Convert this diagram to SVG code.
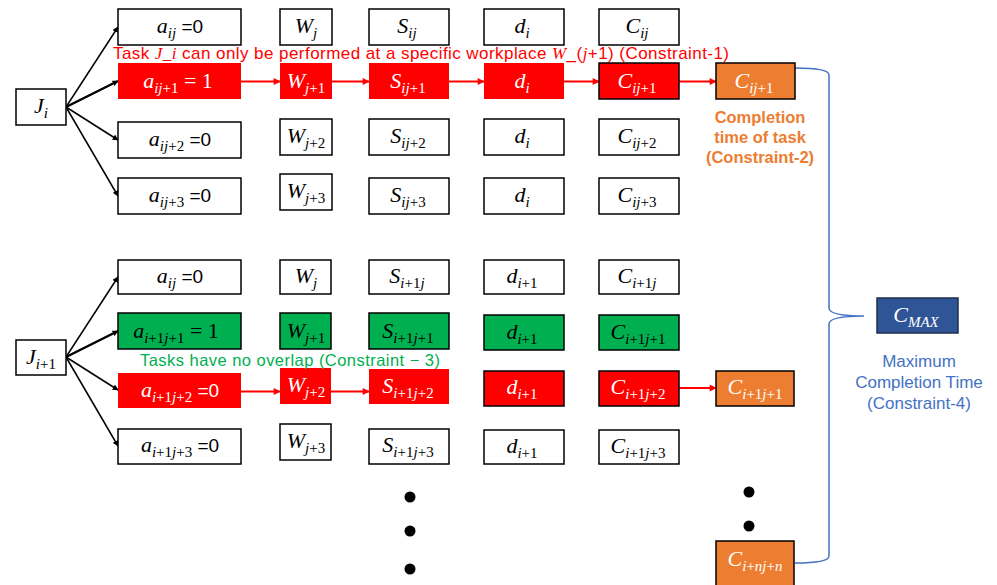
<svg xmlns="http://www.w3.org/2000/svg" width="997" height="585" viewBox="0 0 997 585">
<defs>
<style>
.b{fill:#fff;stroke:#000;stroke-width:1.5}
.r{fill:#ff0000}
.rb{fill:#ff0000;stroke:#000;stroke-width:1.5}
.g{fill:#00b050;stroke:#000;stroke-width:1.5}
.o{fill:#ed7d31;stroke:#000;stroke-width:1.5}
.bl{fill:#2f5597;stroke:#1f2f4f;stroke-width:1.5}
.m{font-family:"Liberation Serif","DejaVu Serif",serif;font-style:italic;font-size:22px;text-anchor:middle;fill:#000}
.s{font-size:15px}
.n{font-style:normal}
.u{font-family:"Liberation Sans",Arial,sans-serif;font-style:normal;font-size:19px}
.w{fill:#fff}
.k{stroke:#000;stroke-width:1.5;fill:none;marker-end:url(#ak)}
.kt{stroke:#000;stroke-width:2.5;fill:none;marker-end:url(#ak)}
.ra{stroke:#ff0000;stroke-width:2;fill:none;marker-end:url(#ar)}
.lab{font-family:"Liberation Sans",Arial,sans-serif}
</style>
<marker id="ak" viewBox="0 0 10 10" refX="9" refY="5" markerWidth="6" markerHeight="6" markerUnits="userSpaceOnUse" orient="auto"><path d="M0,0 L10,5 L0,10 z" fill="#000"/></marker>
<marker id="ar" viewBox="0 0 10 10" refX="9" refY="5" markerWidth="8" markerHeight="7" markerUnits="userSpaceOnUse" orient="auto"><path d="M0,0 L10,5 L0,10 z" fill="#ff0000"/></marker>
</defs>

<!-- connectors -->
<g id="connectors">
<line class="k" x1="66" y1="107" x2="118" y2="27"/>
<line class="kt" x1="66" y1="107" x2="118" y2="81"/>
<line class="k" x1="66" y1="107" x2="118" y2="140"/>
<line class="k" x1="66" y1="107" x2="118" y2="196"/>
<line class="k" x1="66" y1="357" x2="118" y2="277"/>
<line class="kt" x1="66" y1="357" x2="118" y2="331"/>
<line class="k" x1="66" y1="357" x2="118" y2="390"/>
<line class="k" x1="66" y1="357" x2="118" y2="446"/>
<line class="ra" x1="241" y1="81.5" x2="280" y2="81.5"/>
<line class="ra" x1="332" y1="81.5" x2="369" y2="81.5"/>
<line class="ra" x1="449" y1="81.5" x2="484" y2="81.5"/>
<line class="ra" x1="564" y1="81.5" x2="599" y2="81.5"/>
<line class="ra" x1="679" y1="81.5" x2="716" y2="81.5"/>
<line class="ra" x1="241" y1="391.5" x2="280" y2="391.5"/>
<line class="ra" x1="331" y1="391.5" x2="369" y2="391.5"/>
<line class="ra" x1="679" y1="388" x2="716" y2="388"/>
<path id="brace" d="M795,68 C815,68 829,70 829,75 L829,308 C829,313 840,316 864,316 C840,316 829,319 829,324 L829,556 C829,561 815,563 795,563" fill="none" stroke="#4472c4" stroke-width="1.5"/>
</g>

<!-- job nodes -->
<g id="job-i"><rect class="b" x="16" y="89" width="50" height="36"/>
<text class="m" x="41" y="113">J<tspan class="s" dy="5">i</tspan></text></g>
<g id="job-i1"><rect class="b" x="16" y="340" width="50" height="35"/>
<text class="m" x="41" y="364">J<tspan class="s" dy="5">i<tspan class="n">+1</tspan></tspan></text></g>

<!-- job i, row j -->
<g id="a-i-j"><rect class="b" x="118" y="9" width="123" height="36"/>
<text class="m" x="180" y="33">a<tspan class="s" dy="5">ij</tspan><tspan dy="-5" class="u"> =0</tspan></text></g>
<g id="w-j"><rect class="b" x="280" y="9" width="52" height="36"/>
<text class="m" x="306" y="33">W<tspan class="s" dy="5">j</tspan></text></g>
<g id="s-i-j"><rect class="b" x="369" y="9" width="80" height="36"/>
<text class="m" x="407" y="33">S<tspan class="s" dy="5">ij</tspan></text></g>
<g id="d-i-j"><rect class="b" x="484" y="9" width="80" height="36"/>
<text class="m" x="522" y="33">d<tspan class="s" dy="5">i</tspan></text></g>
<g id="c-i-j"><rect class="b" x="599" y="9" width="80" height="36"/>
<text class="m" x="637" y="33">C<tspan class="s" dy="5">ij</tspan></text></g>

<!-- job i, row j+1 (assigned) -->
<g id="a-i-j1"><rect class="r" x="118" y="63" width="123" height="36"/>
<text class="m w" x="178" y="88">a<tspan class="s" dy="5">ij<tspan class="n">+1</tspan></tspan><tspan dy="-5" class="n"> = 1</tspan></text></g>
<g id="w-j1"><rect class="r" x="280" y="63" width="52" height="36"/>
<text class="m w" x="306" y="88">W<tspan class="s" dy="5">j<tspan class="n">+1</tspan></tspan></text></g>
<g id="s-i-j1"><rect class="r" x="369" y="63" width="80" height="36"/>
<text class="m w" x="408" y="88">S<tspan class="s" dy="5">ij<tspan class="n">+1</tspan></tspan></text></g>
<g id="d-i-j1"><rect class="r" x="484" y="63" width="80" height="36"/>
<text class="m w" x="522" y="88">d<tspan class="s" dy="5">i</tspan></text></g>
<g id="c-i-j1"><rect class="rb" x="599" y="63" width="80" height="36"/>
<text class="m w" x="637" y="88">C<tspan class="s" dy="5">ij<tspan class="n">+1</tspan></tspan></text></g>
<g id="ct-i"><rect class="o" x="716" y="63" width="79" height="36"/>
<text class="m w" x="754" y="88">C<tspan class="s" dy="5">ij<tspan class="n">+1</tspan></tspan></text></g>

<!-- job i, row j+2 -->
<g id="a-i-j2"><rect class="b" x="118" y="122" width="123" height="36"/>
<text class="m" x="180" y="146">a<tspan class="s" dy="5">ij<tspan class="n">+2</tspan></tspan><tspan dy="-5" class="u"> =0</tspan></text></g>
<g id="w-j2"><rect class="b" x="280" y="119" width="52" height="36"/>
<text class="m" x="306" y="143">W<tspan class="s" dy="5">j<tspan class="n">+2</tspan></tspan></text></g>
<g id="s-i-j2"><rect class="b" x="369" y="119" width="80" height="36"/>
<text class="m" x="408" y="143">S<tspan class="s" dy="5">ij<tspan class="n">+2</tspan></tspan></text></g>
<g id="d-i-j2"><rect class="b" x="484" y="119" width="80" height="36"/>
<text class="m" x="522" y="143">d<tspan class="s" dy="5">i</tspan></text></g>
<g id="c-i-j2"><rect class="b" x="599" y="119" width="80" height="36"/>
<text class="m" x="637" y="143">C<tspan class="s" dy="5">ij<tspan class="n">+2</tspan></tspan></text></g>

<!-- job i, row j+3 -->
<g id="a-i-j3"><rect class="b" x="118" y="178" width="123" height="36"/>
<text class="m" x="180" y="202">a<tspan class="s" dy="5">ij<tspan class="n">+3</tspan></tspan><tspan dy="-5" class="u"> =0</tspan></text></g>
<g id="w-j3"><rect class="b" x="280" y="174" width="52" height="36"/>
<text class="m" x="306" y="198">W<tspan class="s" dy="5">j<tspan class="n">+3</tspan></tspan></text></g>
<g id="s-i-j3"><rect class="b" x="369" y="178" width="80" height="36"/>
<text class="m" x="408" y="202">S<tspan class="s" dy="5">ij<tspan class="n">+3</tspan></tspan></text></g>
<g id="d-i-j3"><rect class="b" x="484" y="178" width="80" height="36"/>
<text class="m" x="522" y="202">d<tspan class="s" dy="5">i</tspan></text></g>
<g id="c-i-j3"><rect class="b" x="599" y="178" width="80" height="36"/>
<text class="m" x="637" y="202">C<tspan class="s" dy="5">ij<tspan class="n">+3</tspan></tspan></text></g>

<!-- job i+1, row j -->
<g id="a-i1-j"><rect class="b" x="118" y="260" width="123" height="34"/>
<text class="m" x="180" y="283">a<tspan class="s" dy="5">ij</tspan><tspan dy="-5" class="u"> =0</tspan></text></g>
<g id="w2-j"><rect class="b" x="280" y="260" width="51" height="34"/>
<text class="m" x="306" y="283">W<tspan class="s" dy="5">j</tspan></text></g>
<g id="s-i1-j"><rect class="b" x="369" y="260" width="80" height="34"/>
<text class="m" x="407" y="283">S<tspan class="s" dy="5">i<tspan class="n">+1</tspan>j</tspan></text></g>
<g id="d-i1-j"><rect class="b" x="484" y="260" width="80" height="34"/>
<text class="m" x="522" y="283">d<tspan class="s" dy="5">i<tspan class="n">+1</tspan></tspan></text></g>
<g id="c-i1-j"><rect class="b" x="599" y="260" width="80" height="34"/>
<text class="m" x="637" y="283">C<tspan class="s" dy="5">i<tspan class="n">+1</tspan>j</tspan></text></g>

<!-- job i+1, row j+1 (occupied) -->
<g id="a-i1-j1"><rect class="g" x="118" y="313" width="123" height="36"/>
<text class="m" x="176" y="338">a<tspan class="s" dy="5">i<tspan class="n">+1</tspan>j<tspan class="n">+1</tspan></tspan><tspan dy="-5" class="n"> = 1</tspan></text></g>
<g id="w2-j1"><rect class="g" x="280" y="313" width="51" height="36"/>
<text class="m" x="306" y="338">W<tspan class="s" dy="5">j<tspan class="n">+1</tspan></tspan></text></g>
<g id="s-i1-j1"><rect class="g" x="369" y="313" width="80" height="36"/>
<text class="m" x="408" y="338">S<tspan class="s" dy="5">i<tspan class="n">+1</tspan>j<tspan class="n">+1</tspan></tspan></text></g>
<g id="d-i1-j1"><rect class="g" x="484" y="315" width="80" height="35"/>
<text class="m" x="522" y="339">d<tspan class="s" dy="5">i<tspan class="n">+1</tspan></tspan></text></g>
<g id="c-i1-j1"><rect class="g" x="599" y="315" width="80" height="35"/>
<text class="m" x="638" y="339">C<tspan class="s" dy="5">i<tspan class="n">+1</tspan>j<tspan class="n">+1</tspan></tspan></text></g>

<!-- job i+1, row j+2 (assigned) -->
<g id="a-i1-j2"><rect class="r" x="118" y="373" width="123" height="35"/>
<text class="m w" x="180" y="397">a<tspan class="s" dy="5">i<tspan class="n">+1</tspan>j<tspan class="n">+2</tspan></tspan><tspan dy="-5" class="u"> =0</tspan></text></g>
<g id="w2-j2"><rect class="r" x="280" y="368" width="51" height="36"/>
<text class="m w" x="306" y="392">W<tspan class="s" dy="5">j<tspan class="n">+2</tspan></tspan></text></g>
<g id="s-i1-j2"><rect class="r" x="369" y="369" width="80" height="35"/>
<text class="m w" x="408" y="393">S<tspan class="s" dy="5">i<tspan class="n">+1</tspan>j<tspan class="n">+2</tspan></tspan></text></g>
<g id="d-i1-j2"><rect class="rb" x="484" y="371" width="80" height="35"/>
<text class="m w" x="522" y="394">d<tspan class="s" dy="5">i<tspan class="n">+1</tspan></tspan></text></g>
<g id="c-i1-j2"><rect class="rb" x="599" y="371" width="80" height="35"/>
<text class="m w" x="638" y="394">C<tspan class="s" dy="5">i<tspan class="n">+1</tspan>j<tspan class="n">+2</tspan></tspan></text></g>
<g id="ct-i1"><rect class="o" x="716" y="371" width="78" height="35"/>
<text class="m w" x="755" y="394">C<tspan class="s" dy="5">i<tspan class="n">+1</tspan>j<tspan class="n">+1</tspan></tspan></text></g>

<!-- job i+1, row j+3 -->
<g id="a-i1-j3"><rect class="b" x="118" y="429" width="123" height="35"/>
<text class="m" x="180" y="452">a<tspan class="s" dy="5">i<tspan class="n">+1</tspan>j<tspan class="n">+3</tspan></tspan><tspan dy="-5" class="u"> =0</tspan></text></g>
<g id="w2-j3"><rect class="b" x="280" y="424" width="51" height="36"/>
<text class="m" x="306" y="448">W<tspan class="s" dy="5">j<tspan class="n">+3</tspan></tspan></text></g>
<g id="s-i1-j3"><rect class="b" x="369" y="429" width="80" height="35"/>
<text class="m" x="408" y="452">S<tspan class="s" dy="5">i<tspan class="n">+1</tspan>j<tspan class="n">+3</tspan></tspan></text></g>
<g id="d-i1-j3"><rect class="b" x="484" y="430" width="80" height="34"/>
<text class="m" x="522" y="453">d<tspan class="s" dy="5">i<tspan class="n">+1</tspan></tspan></text></g>
<g id="c-i1-j3"><rect class="b" x="599" y="430" width="80" height="34"/>
<text class="m" x="638" y="453">C<tspan class="s" dy="5">i<tspan class="n">+1</tspan>j<tspan class="n">+3</tspan></tspan></text></g>

<!-- last completion time and makespan -->
<g id="ct-n"><rect class="o" x="716" y="541" width="78" height="50"/>
<text class="m w" x="755" y="566">C<tspan class="s" dy="5">i<tspan class="n">+</tspan>nj<tspan class="n">+</tspan>n</tspan></text></g>
<g id="cmax"><rect class="bl" x="877" y="298" width="81" height="35"/>
<text class="m w" x="916" y="322">C<tspan class="s" dy="5">MAX</tspan></text></g>

<!-- ellipsis dots -->
<g id="dots" fill="#000">
<circle cx="410" cy="497" r="5.5"/><circle cx="410" cy="531" r="5.5"/><circle cx="410" cy="569" r="5.5"/>
<circle cx="749" cy="492" r="5.5"/><circle cx="749" cy="526" r="5.5"/>
</g>

<!-- constraint notes -->
<g id="notes">
<text class="lab" x="113" y="59" font-size="17" fill="#ff0000" textLength="616" lengthAdjust="spacing">Task <tspan font-style="italic" font-family="Liberation Serif">J_i</tspan>  can only be performed at a specific workplace <tspan font-style="italic" font-family="Liberation Serif">W</tspan>_(<tspan font-style="italic" font-family="Liberation Serif">j</tspan>+1) (Constraint-1)</text>
<text class="lab" x="140" y="366" font-size="16.5" fill="#00b050" textLength="300" lengthAdjust="spacing">Tasks have no overlap (Constraint − 3)</text>
<g font-size="16.5" font-weight="bold" fill="#ed7d31" text-anchor="middle" class="lab">
<text x="760" y="123">Completion</text>
<text x="760" y="143">time of task</text>
<text x="760" y="163">(Constraint-2)</text>
</g>
<g font-size="17" fill="#4472c4" text-anchor="middle" class="lab">
<text x="919" y="367">Maximum</text>
<text x="919" y="388">Completion  Time</text>
<text x="919" y="409">(Constraint-4)</text>
</g>
</g>
</svg>
